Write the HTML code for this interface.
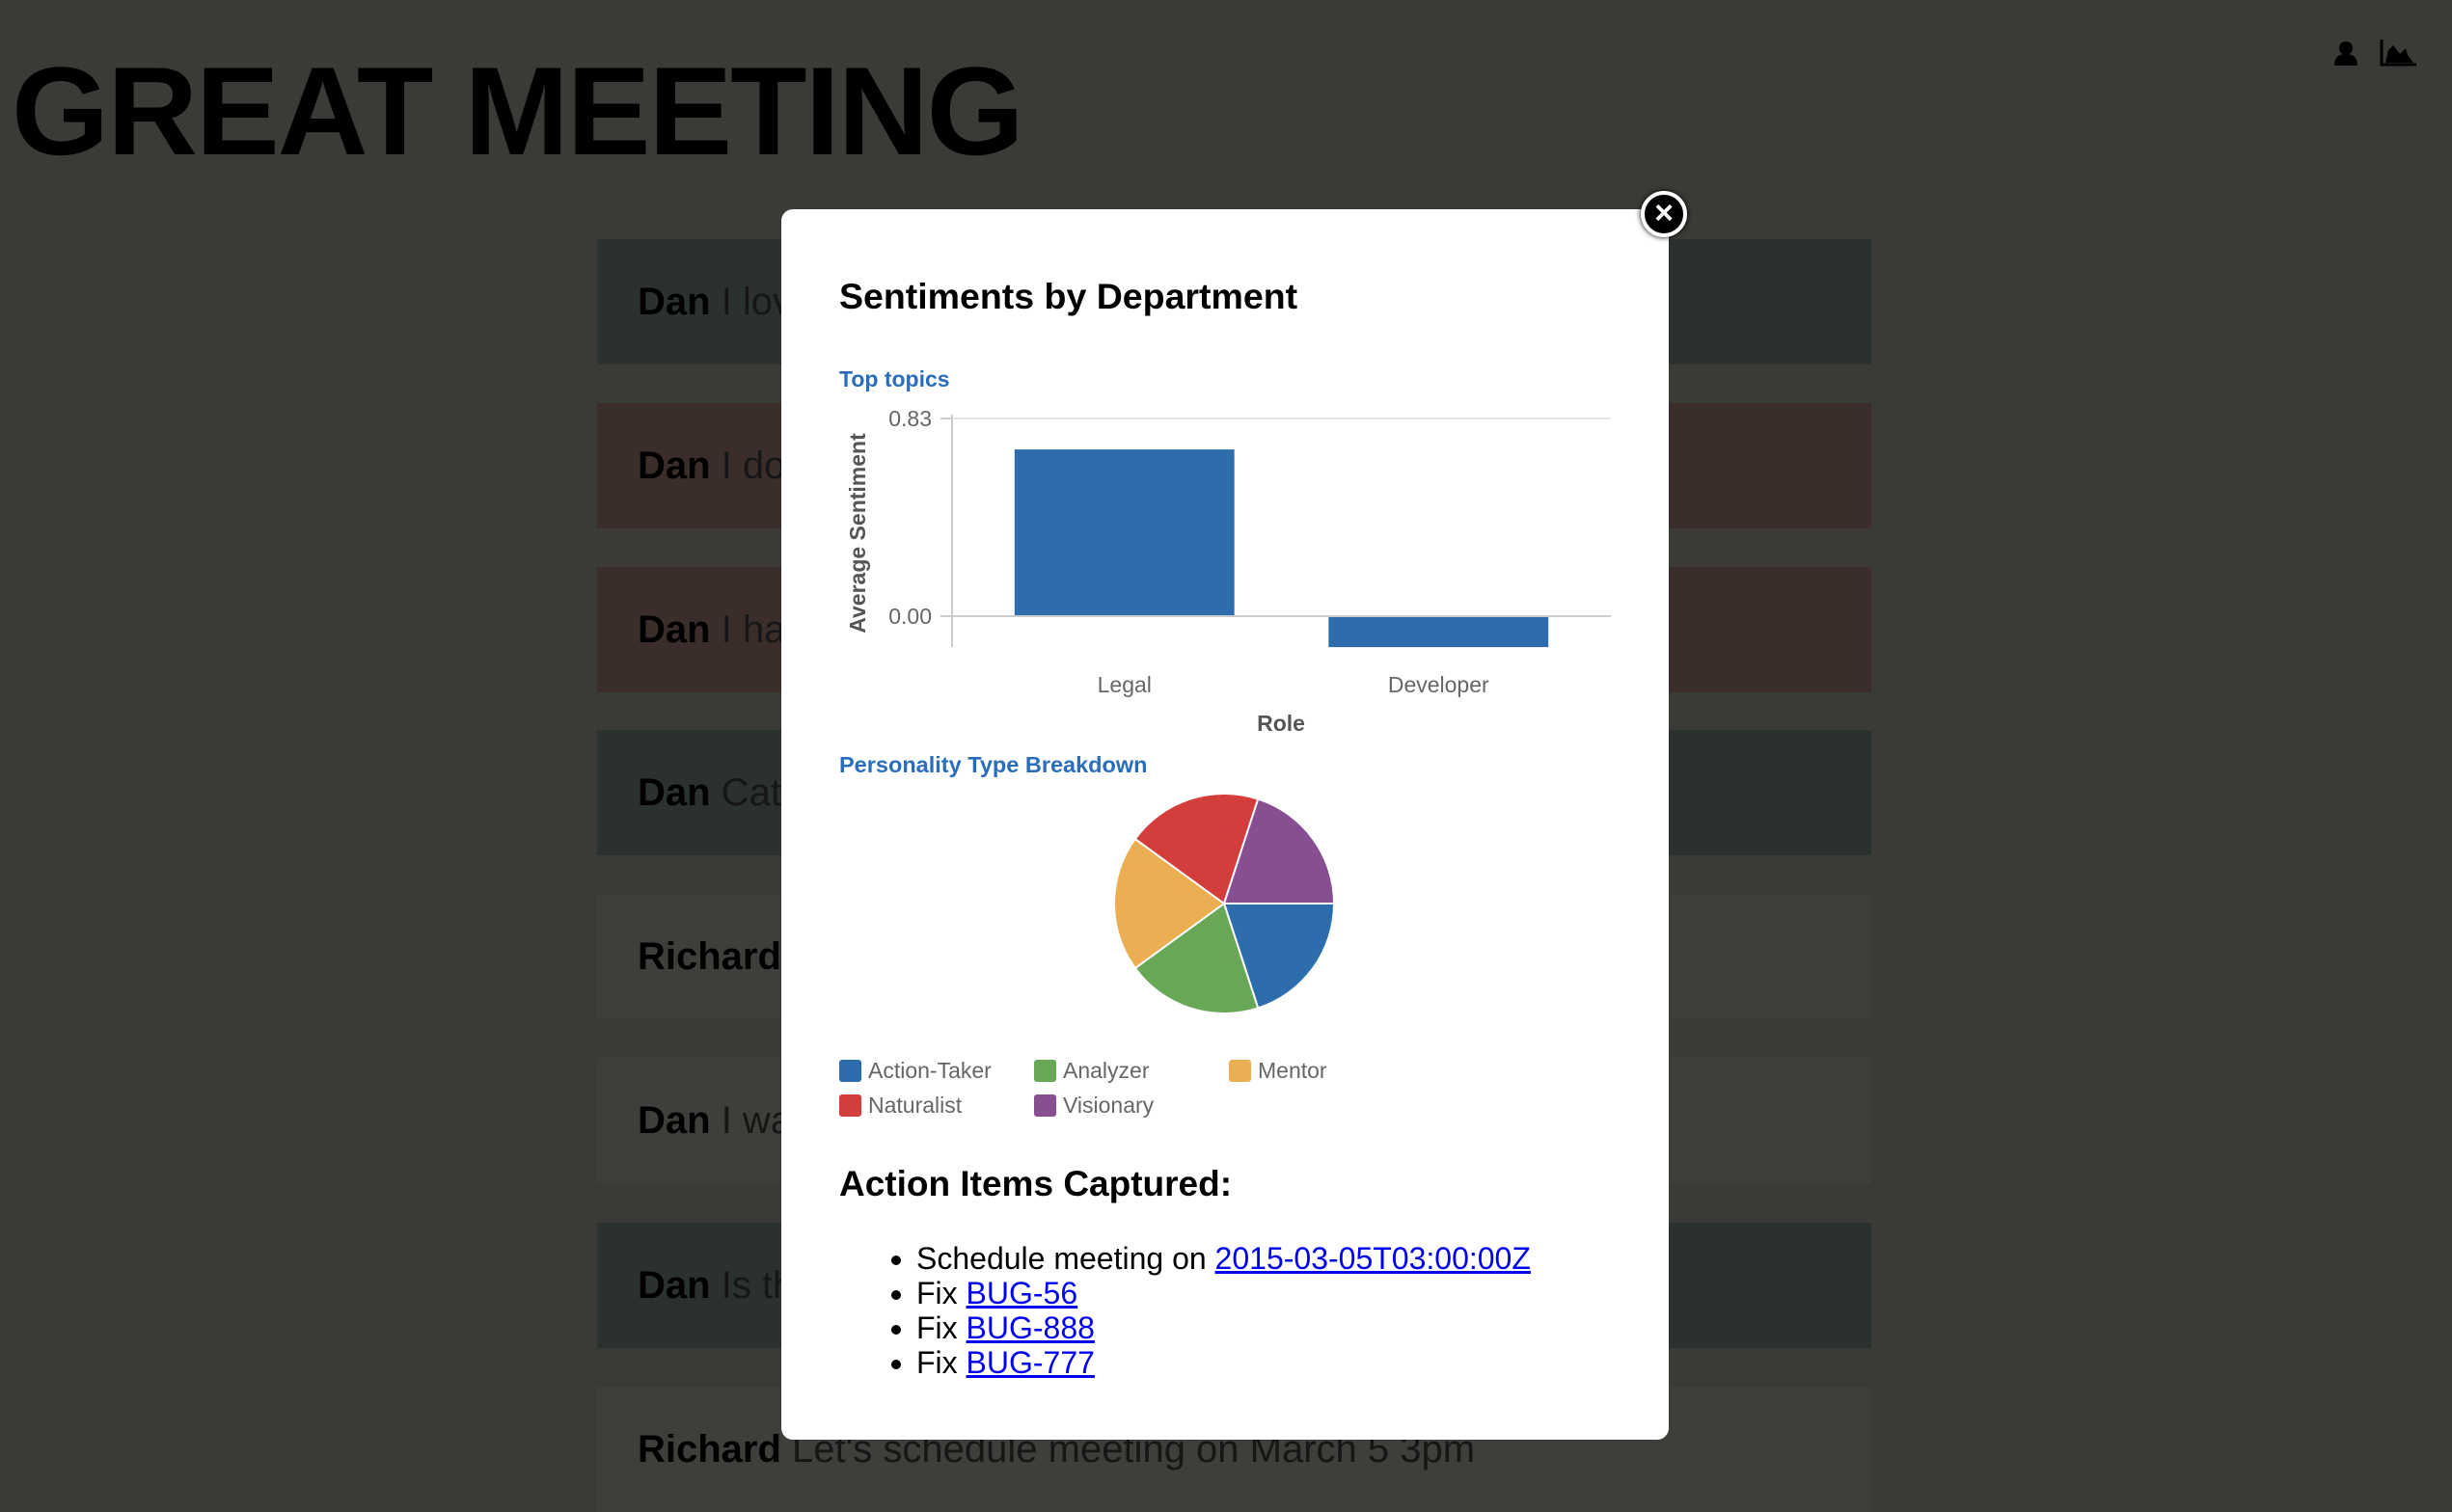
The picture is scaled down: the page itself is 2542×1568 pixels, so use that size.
<!DOCTYPE html>
<html><head><meta charset="utf-8"><style>
*{margin:0;padding:0;box-sizing:border-box}
body{width:2542px;height:1534px;background:#3a3a36;position:relative;overflow:hidden;font-family:"Liberation Sans",sans-serif}
.title{position:absolute;left:12px;top:50px;font-size:130px;font-weight:bold;color:#000;letter-spacing:-2px;line-height:1}
.row{position:absolute;left:619px;width:1321px;height:130px;font-size:40px;color:#161616;padding-left:42px;line-height:130px;white-space:nowrap;overflow:hidden}
.row b{color:#000}
.g{background:#2a312e}.r{background:#3b2e2a}.n{background:#3f3e3b}
.modal{position:absolute;left:810px;top:217px;width:920px;height:1276px;background:#fff;border-radius:12px}
.close{position:absolute;left:1701px;top:198px;width:48px;height:48px;border-radius:50%;background:#000;border:4px solid #fff;box-shadow:0 0 6px #000;color:#fff;font-size:34px;font-weight:bold;text-align:center;line-height:38px}
.h{position:absolute;left:870px;font-weight:bold;color:#000}
.sub{position:absolute;left:870px;font-size:23px;font-weight:bold;color:#2a6ebb}
ul{position:absolute;left:950px;top:1287px;font-size:32px;line-height:36px;color:#000}
a{color:#0000ee;text-decoration:underline}
</style></head><body>
<div class="title">GREAT MEETING</div>
<svg style="position:absolute;left:2415px;top:38px" width="110" height="34">
<g><circle cx="17" cy="12" r="7" fill="#000"/><path d="M5 30 Q5 18 17 18 Q29 18 29 30Z" fill="#000"/></g>
<g><path d="M54 3 V29 H90" stroke="#000" stroke-width="3" fill="none"/><path d="M58 27 L61 14 L66 9 L73 18 L79 12 L81 19 L87 27Z" fill="#000"/></g>
</svg>
<div class="row g" style="top:248px"><b>Dan</b> I love this</div>
<div class="row r" style="top:418px"><b>Dan</b> I don't like</div>
<div class="row r" style="top:588px"><b>Dan</b> I hate</div>
<div class="row g" style="top:757px"><b>Dan</b> Cat</div>
<div class="row n" style="top:927px"><b>Richard</b> ok</div>
<div class="row n" style="top:1097px"><b>Dan</b> I want</div>
<div class="row g" style="top:1268px"><b>Dan</b> Is this</div>
<div class="row n" style="top:1438px"><b>Richard</b> Let's schedule meeting on March 5 3pm</div>
<div class="modal"></div>
<div class="close">×</div>
<div class="h" style="top:286px;font-size:37.5px">Sentiments by Department</div>
<div class="sub" style="top:380px">Top topics</div>
<div class="sub" style="top:780px;font-size:23.5px">Personality Type Breakdown</div>
<svg id="chart" style="position:absolute;left:0;top:0" width="2542" height="1534"></svg>
<div class="h" style="top:1207px;font-size:37px">Action Items Captured:</div>
<ul>
<li>Schedule meeting on <a>2015-03-05T03:00:00Z</a></li>
<li>Fix <a>BUG-56</a></li>
<li>Fix <a>BUG-888</a></li>
<li>Fix <a>BUG-777</a></li>
</ul>
<script>
const categories=["Legal","Developer"];
const sentiments=[0.70,-0.13];
const yTicks=[0.83,0.00];
const pieLabels=["Action-Taker","Analyzer","Mentor","Naturalist","Visionary"];
const pieValues=[1,1,1,1,1];
const pieColors=["#2e6dad","#68a756","#ecae52","#d33d3b","#874e92"];
const NS="http://www.w3.org/2000/svg";
const svg=document.getElementById('chart');
function mk(t,a,txt){const e=document.createElementNS(NS,t);for(const k in a)e.setAttribute(k,a[k]);if(txt!==undefined)e.textContent=txt;svg.appendChild(e);return e;}
const x0=987,x1=1670,yTop=434,yZero=639,yBot=671;
const r0=1003,r1=1654;
const y=v=>yZero-(v/0.83)*(yZero-yTop);
const band=(r1-r0)/categories.length;
let e;
e=mk('line',{x1:x0,x2:x1,y1:y(0.83),y2:y(0.83),stroke:'#e5e5e5','stroke-width':2});

e=mk('line',{x1:x0,x2:x0,y1:yTop-4,y2:yBot,stroke:'#ccc','stroke-width':2});

yTicks.forEach(t=>{
 e=mk('line',{x1:x0-12,x2:x0,y1:y(t),y2:y(t),stroke:'#ccc','stroke-width':2});
 
 e=mk('text',{x:966,y:y(t)+8,'text-anchor':'end','font-size':23,fill:'#666','font-family':'Liberation Sans'},t.toFixed(2));
 
});
categories.forEach((c,i)=>{
 const v=sentiments[i];const bw=band*0.7,bx=r0+band*(i+0.5)-bw/2;
 e=mk('rect',{x:bx,y:Math.min(y(v),yZero),width:bw,height:Math.abs(y(v)-yZero),fill:'#2e6dad'});
 
 e=mk('text',{x:bx+bw/2,y:718,'text-anchor':'middle','font-size':23,fill:'#666','font-family':'Liberation Sans'},c);
 
});
e=mk('line',{x1:x0,x2:x1,y1:yZero,y2:yZero,stroke:'#ccc','stroke-width':2});

e=mk('text',{x:1328,y:758,'text-anchor':'middle','font-size':23,'font-weight':'bold',fill:'#555','font-family':'Liberation Sans'},'Role');

e=mk('text',{x:0,y:0,transform:'translate(897,553) rotate(-90)','text-anchor':'middle','font-size':23,'font-weight':'bold',fill:'#555','font-family':'Liberation Sans'},'Average Sentiment');

const cx=1269,cy=937,R=114;
const tot=pieValues.reduce((a,b)=>a+b,0);let a0=0;
pieValues.forEach((v,i)=>{
 const a1=a0+v/tot*2*Math.PI;
 const d=`M${cx},${cy} L${cx+R*Math.cos(a0)},${cy+R*Math.sin(a0)} A${R},${R} 0 ${a1-a0>Math.PI?1:0} 1 ${cx+R*Math.cos(a1)},${cy+R*Math.sin(a1)} Z`;
 e=mk('path',{d:d,fill:pieColors[i],stroke:'#fff','stroke-width':2});
 
 a0=a1;
});
pieLabels.forEach((l,i)=>{
 const lx=870+(i%3)*202,ly=1099+Math.floor(i/3)*36;
 e=mk('rect',{x:lx,y:ly,width:23,height:23,rx:3,fill:pieColors[i]});
 
 e=mk('text',{x:lx+30,y:ly+19,'font-size':23,fill:'#666','font-family':'Liberation Sans'},l);
 
});
</script>
</body></html>
